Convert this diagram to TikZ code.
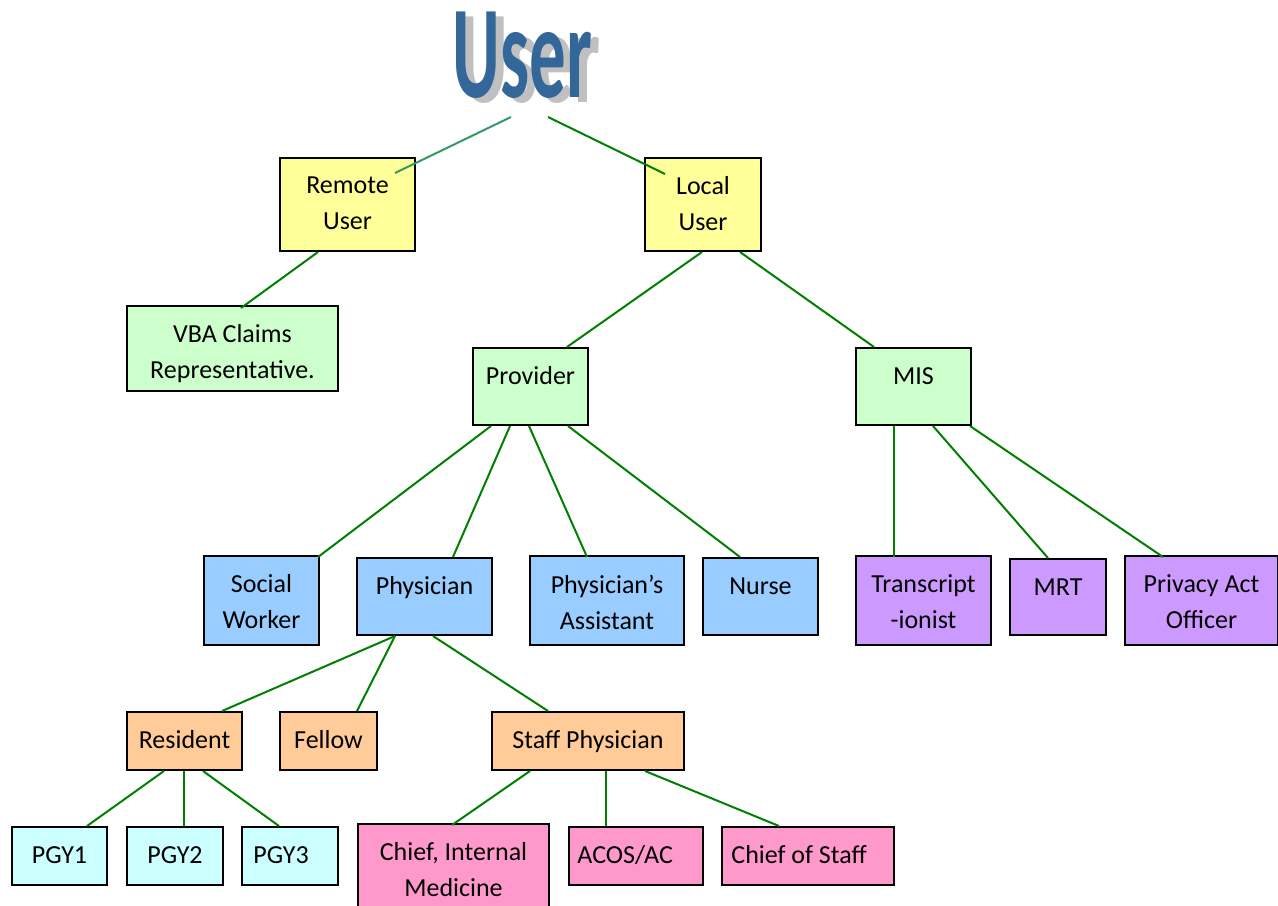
\documentclass[tikz,border=0pt]{standalone}
\usepackage{fontspec}
\setmainfont{Carlito}
\usetikzlibrary{calc}
\definecolor{ylw}{HTML}{FFFF99}
\definecolor{grn}{HTML}{CCFFCC}
\definecolor{blu}{HTML}{99CCFF}
\definecolor{prp}{HTML}{CC99FF}
\definecolor{org}{HTML}{FFCC99}
\definecolor{cyn}{HTML}{CCFFFF}
\definecolor{pnk}{HTML}{FF99CC}
\definecolor{titleblue}{HTML}{336699}
\definecolor{titleshadow}{HTML}{C0C0C0}
\definecolor{linkgreen}{HTML}{008000}
\definecolor{seagreen}{HTML}{339966}
\tikzset{
  role/.style={draw=black, line width=1pt, anchor=north west, inner sep=0pt},
  boxsize/.style 2 args={minimum width=#1*0.5pt, minimum height=#2*0.5pt},
  boxtext/.style={anchor=north, align=center, inner sep=0pt, yshift=-5.9pt,
    font=\fontsize{13}{18}\selectfont, execute at begin node=\strut},
  twoline/.style={boxtext, yshift=-3.75pt},
  lefttext/.style={boxtext, anchor=north west, xshift=#1},
  titletext/.style={anchor=base, inner sep=0pt, font=\bfseries\fontsize{66}{66}\selectfont},
  link/.style={draw=linkgreen, line width=1pt}
}
\begin{document}
\begin{tikzpicture}[x=0.5pt,y=-0.5pt]
  \useasboundingbox (0,0) rectangle (1278,905);
  % title
  \node[titletext, text=titleshadow] (usershadow) at (530.5,102) {\scalebox{0.553}[1]{User}};
  \node[titletext, text=titleblue] (user) at (522.5,97) {\scalebox{0.553}[1]{User}};
  \coordinate (userL) at (511,117);
  \coordinate (userR) at (548,117);
  % first level
  \node[role, fill=ylw, boxsize={135}{93}, label={[twoline]north:{Remote\\User}}] (remote) at (279,157) {};
  \node[role, fill=ylw, boxsize={116}{93}, label={[twoline]north:{Local\\User}}] (local) at (644,157) {};
  % second level
  \node[role, fill=grn, boxsize={211}{85}, label={[twoline]north:{VBA Claims\\Representative.}}] (vba) at (126,305) {};
  \node[role, fill=grn, boxsize={115}{77}, label={[boxtext]north:Provider}] (provider) at (472,347) {};
  \node[role, fill=grn, boxsize={115}{77}, label={[boxtext]north:MIS}] (mis) at (855,347) {};
  % third level
  \node[role, fill=blu, boxsize={115}{89}, label={[twoline]north:{Social\\Worker}}] (social) at (203,555) {};
  \node[role, fill=blu, boxsize={135}{77}, label={[boxtext]north:Physician}] (physician) at (356,557) {};
  \node[role, fill=blu, boxsize={154}{89}, label={[twoline]north:{Physician’s\\Assistant}}] (assistant) at (529,555) {};
  \node[role, fill=blu, boxsize={115}{77}, label={[boxtext]north:Nurse}] (nurse) at (702,557) {};
  \node[role, fill=prp, boxsize={135}{89}, label={[twoline]north:{Transcript\\-ionist}}] (transcript) at (855,555) {};
  \node[role, fill=prp, boxsize={96}{76}, label={[boxtext]north:MRT}] (mrt) at (1009,558) {};
  \node[role, fill=prp, boxsize={153}{89}, label={[twoline]north:{Privacy Act\\Officer}}] (privacy) at (1124,555) {};
  % fourth level
  \node[role, fill=org, boxsize={115}{58}, label={[boxtext]north:Resident}] (resident) at (126,711) {};
  \node[role, fill=org, boxsize={97}{58}, label={[boxtext]north:Fellow}] (fellow) at (279,711) {};
  \node[role, fill=org, boxsize={192}{58}, label={[boxtext]north:Staff Physician}] (staff) at (491,711) {};
  % fifth level
  \node[role, fill=cyn, boxsize={95}{58}, label={[boxtext]north:PGY1}] (pgy1) at (11,826) {};
  \node[role, fill=cyn, boxsize={96}{58}, label={[boxtext]north:PGY2}] (pgy2) at (126,826) {};
  \node[role, fill=cyn, boxsize={96}{58}, label={[lefttext=6pt]north west:PGY3}] (pgy3) at (241,826) {};
  \node[role, fill=pnk, boxsize={191}{90}, label={[twoline]north:{Chief, Internal\\Medicine}}] (chiefim) at (357,823) {};
  \node[role, fill=pnk, boxsize={134}{58}, label={[lefttext=4.5pt]north west:ACOS/AC}] (acos) at (568,826) {};
  \node[role, fill=pnk, boxsize={172}{58}, label={[lefttext=5pt]north west:Chief of Staff}] (cos) at (721,826) {};
  % connectors
  \draw[draw=seagreen, line width=1pt] (userL) to ($(remote.north west)+(116,16)$);
  \draw[link] (userR) to ($(local.north west)+(21,17)$);
  \begin{scope}[link]
    \draw ($(remote.south west)+(39,0)$) to ($(vba.north west)+(115,3)$);
    \draw ($(local.south west)+(58,0)$) to ($(provider.north west)+(95,0)$);
    \draw ($(local.south west)+(96,0)$) to ($(mis.north west)+(19,0)$);
    \draw ($(provider.south west)+(19,0)$) to ($(social.north west)+(115,2)$);
    \draw ($(provider.south west)+(38,0)$) to ($(physician.north west)+(97,0)$);
    \draw ($(provider.south west)+(57,0)$) to ($(assistant.north west)+(58,2)$);
    \draw ($(provider.south west)+(96,0)$) to ($(nurse.north west)+(38,0)$);
    \draw ($(mis.south west)+(39,0)$) to ($(transcript.north west)+(39,2)$);
    \draw ($(mis.south west)+(78,0)$) to ($(mrt.north west)+(39,0)$);
    \draw ($(mis.south west)+(115,0)$) to ($(privacy.north west)+(39,2)$);
    \draw ($(physician.south west)+(39,0)$) to ($(resident.north west)+(96,0)$);
    \draw ($(physician.south west)+(39,0)$) to ($(fellow.north west)+(78,0)$);
    \draw ($(physician.south west)+(77,0)$) to ($(staff.north west)+(57,0)$);
    \draw ($(resident.south west)+(38,0)$) to ($(pgy1.north west)+(76,0)$);
    \draw ($(resident.south west)+(58,0)$) to ($(pgy2.north west)+(58,0)$);
    \draw ($(resident.south west)+(77,0)$) to ($(pgy3.north west)+(38,0)$);
    \draw ($(staff.south west)+(39,0)$) to ($(chiefim.north west)+(95,2)$);
    \draw ($(staff.south west)+(115,0)$) to ($(acos.north west)+(38,0)$);
    \draw ($(staff.south west)+(154,0)$) to ($(cos.north west)+(58,0)$);
  \end{scope}
\end{tikzpicture}
\end{document}
